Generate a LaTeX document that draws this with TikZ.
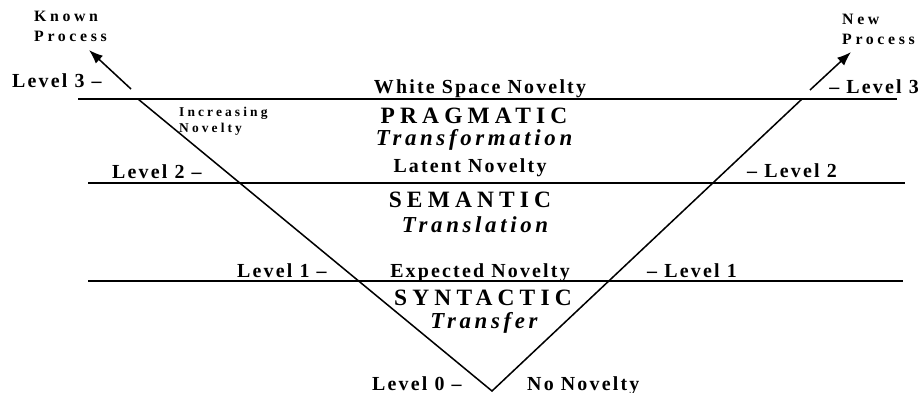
\documentclass[tikz,border=0pt]{standalone}
\usepackage{fontspec}
\setmainfont{Liberation Serif}
\newfontfamily\lvlfont[LetterSpace=11]{Liberation Serif}
\newfontfamily\headfont[LetterSpace=22]{Liberation Serif}
\newfontfamily\kindfont[LetterSpace=16]{Liberation Serif}
\newfontfamily\notefont[LetterSpace=23]{Liberation Serif}
\usetikzlibrary{arrows.meta}

\begin{document}
\begin{tikzpicture}[x=0.03cm, y=-0.03cm,
  lvl/.style={font=\lvlfont\bfseries\fontsize{17}{20}\selectfont, inner sep=0pt},
  head/.style={font=\headfont\bfseries\fontsize{20}{22}\selectfont, inner sep=0pt, anchor=base},
  kind/.style={font=\kindfont\bfseries\itshape\fontsize{19.5}{22}\selectfont, inner sep=0pt, anchor=base},
  proc/.style={font=\notefont\bfseries\fontsize{13.5}{17}\selectfont, inner sep=0pt, align=left, anchor=north west},
  level/.style={line width=0.9pt},
  vee/.style={line width=1.3pt}]
  \useasboundingbox (0,0) rectangle (919,393);

  % Level lines
  \coordinate (l3w) at (78,99);  \coordinate (l3e) at (897,99);
  \coordinate (l2w) at (88,183); \coordinate (l2e) at (905,183);
  \coordinate (l1w) at (88,281); \coordinate (l1e) at (903,281);
  \draw[level] (l3w) -- (l3e);
  \draw[level] (l2w) -- (l2e);
  \draw[level] (l1w) -- (l1e);

  % The V
  \coordinate (topL) at (138,99);
  \coordinate (bottom) at (492,391);
  \coordinate (topR) at (802,99);
  \draw[vee] (topL) -- (bottom) -- (topR);

  % Way out, known and new
  \node[proc] (known) at (34,11) {Known\\Process};
  \node[proc] (new) at (842,14) {New\\Process};
  \coordinate (outL) at (131,89); \coordinate (tipL) at (89,50);
  \coordinate (outR) at (810,90); \coordinate (tipR) at (851,52);
  \draw[vee, -{Latex[length=12pt, width=9pt]}] (outL) -- (tipL);
  \draw[vee, -{Latex[length=12pt, width=9pt]}] (outR) -- (tipR);

  % Level marks
  \node[lvl, anchor=base west] (lev3l) at (12,87) {Level 3 –};
  \node[lvl, anchor=base east] (lev3r) at (919,93) {– Level 3};
  \node[lvl, anchor=base west] (lev2l) at (112,178) {Level 2 –};
  \node[lvl, anchor=base west] (lev2r) at (747,177) {– Level 2};
  \node[lvl, anchor=base west] (lev1l) at (237,277) {Level 1 –};
  \node[lvl, anchor=base west] (lev1r) at (647,277) {– Level 1};
  \node[lvl, anchor=base west] (lev0) at (372,390) {Level 0 –};

  % Novelty and layers
  \node[lvl, anchor=base] (white) at (480,93) {White Space Novelty};
  \node[head] (prag) at (474,123) {PRAGMATIC};
  \node[kind] (transf) at (474,145) {Transformation};
  \node[lvl, anchor=base] (latent) at (470,172) {Latent Novelty};
  \node[head] (sem) at (470,207) {SEMANTIC};
  \node[kind] (transl) at (475,232) {Translation};
  \node[lvl, anchor=base] (expect) at (480,277) {Expected Novelty};
  \node[head] (syn) at (483,305) {SYNTACTIC};
  \node[kind] (transfer) at (484,328) {Transfer};
  \node[lvl, anchor=base west] (none) at (527,390) {No Novelty};

  \node[font=\notefont\bfseries\fontsize{11.5}{13.6}\selectfont, inner sep=0pt,
    align=left, anchor=north west] (incr) at (179,107) {Increasing\\Novelty};
\end{tikzpicture}
\end{document}
